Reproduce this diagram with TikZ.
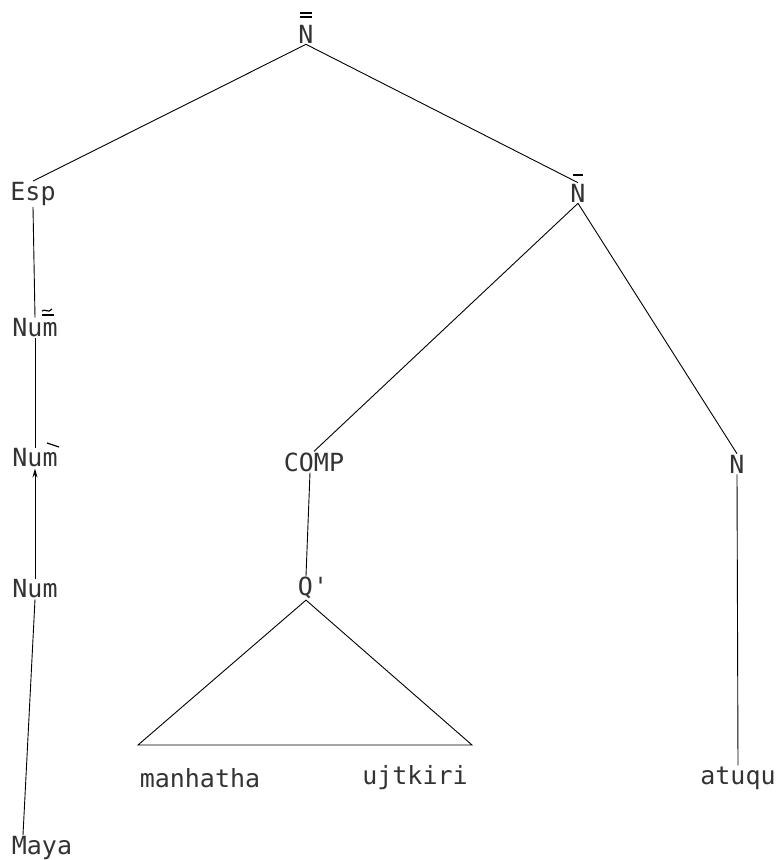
\documentclass[tikz,border=0pt]{standalone}
\usepackage{fontspec}
\usepackage{tikz}
\usetikzlibrary{arrows.meta}
\newfontfamily\treefont{DejaVu Sans Mono}

\begin{document}
\begin{tikzpicture}[
  x=1pt, y=-1pt,
  lbl/.style={inner sep=1pt, font=\treefont\fontsize{25}{28}\selectfont, text=black!80},
  edge/.style={line width=0.9pt},
  barmark/.style={line width=1.2pt},
]
\useasboundingbox (0,0) rectangle (778,860);

% category labels
\node[lbl] (ntop)   at (306,34)  {N};
\node[lbl] (esp)    at (33,194)  {Esp};
\node[lbl] (nbar)   at (578,193) {N};
\node[lbl] (numtwo) at (35,328)  {Num};
\node[lbl] (numone) at (35,458)  {Num};
\node[lbl] (num)    at (35,589)  {Num};
\node[lbl] (comp)   at (314,462) {COMP};
\node[lbl] (qbar)   at (313,588) {Q'};
\node[lbl] (nhead)  at (737,464) {N};

% words
\node[lbl] (manhatha) at (200,778) {manhatha};
\node[lbl] (ujtkiri)  at (415,778) {ujtkiri};
\node[lbl] (atuqu)    at (738,778) {atuqu};
\node[lbl] (maya)     at (42,848)  {Maya};

% bar levels
\draw[barmark] (300,13) -- (312,13);
\draw[barmark] (300,17) -- (312,17);
\draw[barmark] (573,175) -- (583,175);
\draw[barmark] (42,311) .. controls (45,308) and (48,314) .. (52,309);
\draw[barmark] (42,315) -- (54,315);
\draw[barmark] (47,443) -- (59,447);

% branches
\draw[edge] (ntop.south) -- (esp.north);
\draw[edge] (ntop.south) -- (nbar.north);
\draw[edge] (esp.south) -- (numtwo.north);
\draw[edge] (numtwo.south) -- (numone.north);
\draw[edge, -{Stealth[length=9pt, width=5pt]}] (num.north) -- (numone.south);
\draw[edge] (num.south) -- ([xshift=-19pt]maya.north);
\draw[edge] (nbar.south) -- (comp.north);
\draw[edge] (nbar.south) -- (nhead.north);
\draw[edge] ([xshift=-4pt]comp.south) -- ([xshift=-7pt]qbar.north);
\draw[edge] (nhead.south) -- (atuqu.north);

% roof over the clause
\coordinate (roofl) at (138,745);
\coordinate (roofr) at (472,745);
\draw[edge] ([xshift=-7pt]qbar.south) -- (roofl) -- (roofr) -- cycle;
\end{tikzpicture}
\end{document}
